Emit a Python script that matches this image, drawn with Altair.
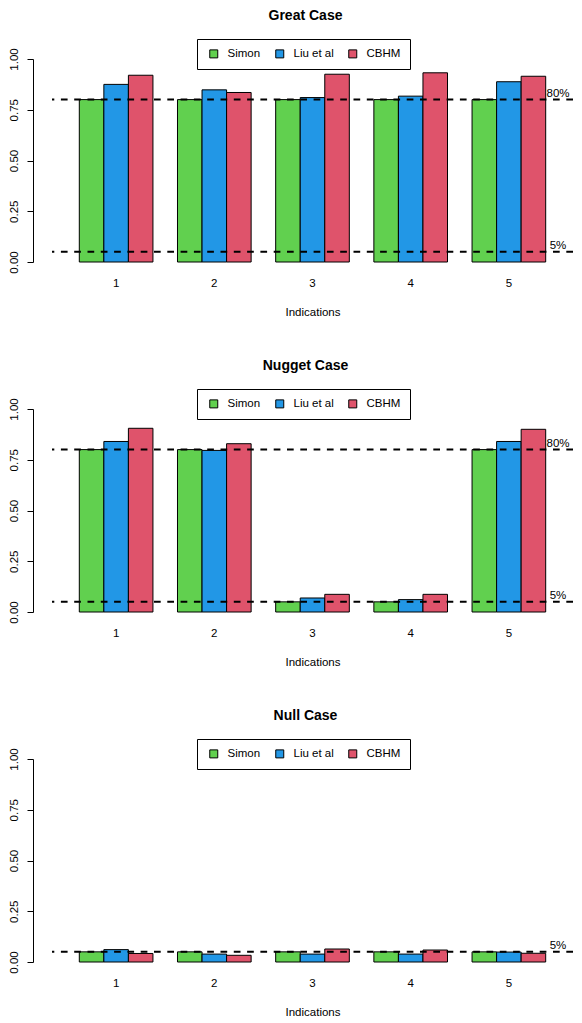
import altair as alt
import pandas as pd

FONT = "Liberation Sans"

indications = [1, 2, 3, 4, 5]
methods = ["Simon", "Liu et al", "CBHM"]
colors = ["#61D04F", "#2297E6", "#DF536B"]

great_simon = [0.80, 0.80, 0.80, 0.80, 0.80]
great_liu = [0.875, 0.848, 0.810, 0.817, 0.888]
great_cbhm = [0.920, 0.835, 0.925, 0.932, 0.915]

nugget_simon = [0.80, 0.80, 0.05, 0.05, 0.80]
nugget_liu = [0.840, 0.796, 0.069, 0.061, 0.840]
nugget_cbhm = [0.905, 0.829, 0.087, 0.087, 0.900]

null_simon = [0.05, 0.05, 0.05, 0.05, 0.05]
null_liu = [0.061, 0.039, 0.039, 0.039, 0.049]
null_cbhm = [0.042, 0.033, 0.064, 0.059, 0.043]

ref_levels_full = [0.80, 0.05]
ref_labels_full = ["80%", "5%"]
ref_levels_null = [0.05]
ref_labels_null = ["5%"]

y_ticks = [0.0, 0.25, 0.5, 0.75, 1.0]


def panel(title, simon, liu, cbhm, levels, labels):
    rows = []
    for series, name in zip([simon, liu, cbhm], methods):
        for ind, v in zip(indications, series):
            rows.append({"ind": ind, "method": name, "value": v})
    df = pd.DataFrame(rows)
    th = pd.DataFrame({"level": levels, "label": labels})

    bars = alt.Chart(df).mark_bar(stroke="black", strokeWidth=1).encode(
        x=alt.X(
            "ind:O",
            title="Indications",
            scale=alt.Scale(paddingInner=0.25, paddingOuter=0.278),
            axis=alt.Axis(
                labelAngle=0, domain=False, ticks=False, tickSize=0,
                labelPadding=15, titlePadding=18, labelFontSize=11.5,
                titleFontSize=11.5, titleFontWeight="normal",
                labelColor="black", titleColor="black",
                labelFont=FONT, titleFont=FONT,
            ),
        ),
        xOffset=alt.XOffset(
            "method:N", sort=methods,
            scale=alt.Scale(paddingInner=0, paddingOuter=0),
        ),
        y=alt.Y(
            "value:Q",
            title=None,
            scale=alt.Scale(domain=[0, 1], nice=False, zero=True),
            axis=alt.Axis(
                values=y_ticks, format=".2f", grid=False, offset=19,
                tickSize=6, labelPadding=10, labelAngle=270,
                labelAlign="center", labelBaseline="alphabetic",
                labelFontSize=11.5, labelColor="black", labelFont=FONT,
                domainColor="black", tickColor="black",
                domainWidth=1, tickWidth=1,
            ),
        ),
        color=alt.Color(
            "method:N", sort=methods,
            scale=alt.Scale(domain=methods, range=colors),
            legend=alt.Legend(
                title=None, orient="none", legendX=145, legendY=-20,
                direction="horizontal", strokeColor="black",
                fillColor="white", padding=9, symbolType="square",
                symbolSize=64, symbolStrokeColor="black",
                symbolStrokeWidth=1, symbolOpacity=1,
                labelFontSize=11.5, labelFont=FONT, labelColor="black",
                columnPadding=11, labelOffset=8, symbolOffset=2,
            ),
        ),
    )

    rules = alt.Chart(th).mark_rule(
        strokeDash=[6.7, 6.6], strokeWidth=2, color="black"
    ).encode(y="level:Q")

    texts = alt.Chart(th).mark_text(
        align="center", baseline="bottom", dy=-1, fontSize=11.5,
        font=FONT, color="black",
    ).encode(y="level:Q", x=alt.value(506), text="label:N")

    return alt.layer(bars, rules, texts).properties(
        width=521,
        height=203,
        view=alt.ViewBackground(stroke="transparent", strokeWidth=0),
        title=alt.TitleParams(
            title, fontSize=14, fontWeight="bold", font=FONT,
            anchor="middle", frame="group", dx=-7, offset=16,
            color="black",
        ),
    )


p1 = panel("Great Case", great_simon, great_liu, great_cbhm,
           ref_levels_full, ref_labels_full)
p2 = panel("Nugget Case", nugget_simon, nugget_liu, nugget_cbhm,
           ref_levels_full, ref_labels_full)
p3 = panel("Null Case", null_simon, null_liu, null_cbhm,
           ref_levels_null, ref_labels_null)

chart = (
    alt.vconcat(p1, p2, p3, spacing=40)
    .resolve_scale(color="independent")
    .resolve_legend(color="independent")
    .properties(padding={"left": 0, "top": 0, "right": 0, "bottom": 0})
    .configure_view(stroke="transparent", strokeWidth=0)
    .configure(font=FONT)
)

chart.save("out.html", embed_options={"renderer": "svg", "actions": False})
